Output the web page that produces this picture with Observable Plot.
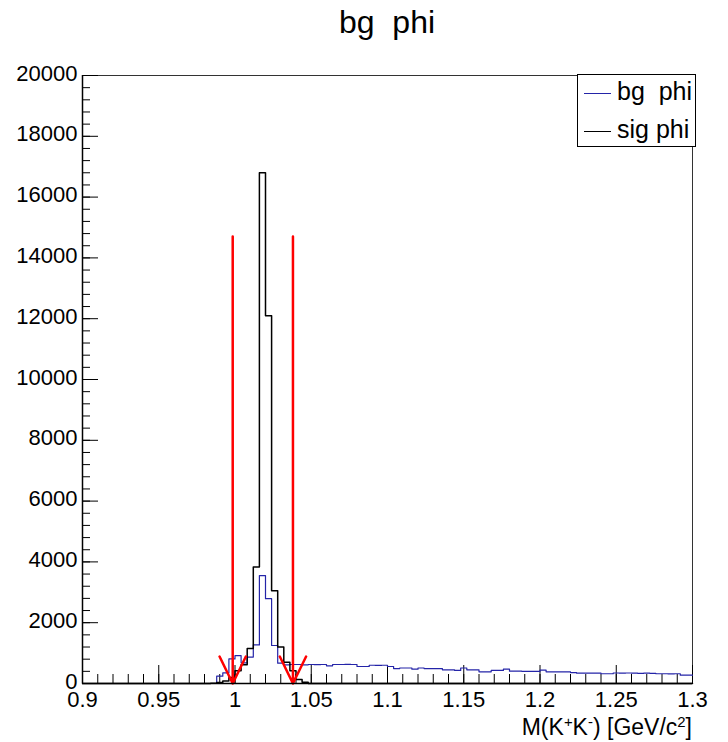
<!DOCTYPE html>
<html><head><meta charset="utf-8">
<script src="https://cdn.jsdelivr.net/npm/d3@7"></script>
<script src="https://cdn.jsdelivr.net/npm/@observablehq/plot@0.6"></script>
<style>
body{margin:0;background:#fff;font-family:"Liberation Sans",Arial,sans-serif;}
#wrap{position:relative;width:728px;height:742px;overflow:hidden;}
#title{position:absolute;left:387px;top:6px;transform:translateX(-50%);font-size:32px;line-height:32px;white-space:pre;color:#000;}
#xlabel{position:absolute;right:36px;top:716px;font-size:23px;line-height:23px;white-space:pre;color:#000;}
#xlabel sup{font-size:65%;line-height:0;vertical-align:0.55em;}
#legend{position:absolute;left:577px;top:74px;width:119px;height:73px;border:1px solid #000;background:#fff;box-sizing:border-box;}
.sw{position:absolute;left:6px;width:27px;height:0;border-top:1.5px solid;}
.lt{position:absolute;left:39px;font-size:25px;line-height:25px;white-space:pre;color:#000;}
</style></head>
<body>
<div id="wrap">
<div id="chart"></div>
<div id="title"></div>
<div id="legend"></div>
<div id="xlabel">M(K<sup>+</sup>K<sup>-</sup>) [GeV/c<sup>2</sup>]</div>
</div>
<script>
// Histogram binning: 100 bins from 0.9 to 1.3
const binStart = 0.9, binWidth = 0.004, nBins = 100;
// Counts per bin
const bgCounts = [
  0,0,0,0,0,0,0,0,0,0,
  0,0,0,0,0,0,0,0,0,0,
  0,0,240,350,810,920,680,870,1270,3550,
  2790,1250,670,615,625,625,615,625,620,625,
  580,625,625,630,625,560,560,600,595,600,
  560,490,510,510,470,510,490,490,490,450,
  450,430,510,450,450,385,385,430,430,470,
  405,405,400,400,400,440,385,385,385,385,
  360,340,340,340,340,320,320,345,340,345,
  340,335,340,335,320,320,315,320,275,275
];
const sigCounts = [
  0,0,0,0,0,0,0,0,0,0,
  0,0,0,0,0,0,0,0,0,0,
  0,10,30,80,200,420,620,1150,3830,16800,
  12100,3050,1200,700,420,130,40,0,0,0,
  0,0,0,0,0,0,0,0,0,0,
  0,0,0,0,0,0,0,0,0,0,
  0,0,0,0,0,0,0,0,0,0,
  0,0,0,0,0,0,0,0,0,0,
  0,0,0,0,0,0,0,0,0,0,
  0,0,0,0,0,0,0,0,0,0
];
const seriesNames = ["bg  phi", "sig phi"];
const seriesColors = ["#2424a8", "#000000"];
const titleText = "bg  phi";
// Cut window arrows
const cutX = [0.9985, 1.038];
const arrowTop = 14700;
// Axis ticks
const xMajor = [0.9, 0.95, 1.0, 1.05, 1.1, 1.15, 1.2, 1.25, 1.3];
const xMinor = d3.range(90, 131).map(v => v / 100);
const yMajor = [0, 2000, 4000, 6000, 8000, 10000, 12000, 14000, 16000, 18000, 20000];
const yMinor = d3.range(0, 20001, 400);

const edges = d3.range(nBins + 1).map(i => +(binStart + i * binWidth).toFixed(4));
const toSteps = counts => edges.map((x, i) => ({x, y: counts[Math.min(i, nBins - 1)]}));
const bgData = toSteps(bgCounts);
const sigData = toSteps(sigCounts);

const W = 728, H = 742, mL = 82, mR = 36, mT = 75, mB = 59;
const fw = W - mL - mR, fh = H - mT - mB;

const chart = Plot.plot({
  width: W, height: H,
  marginLeft: mL, marginRight: mR, marginTop: mT, marginBottom: mB,
  x: {domain: [0.9, 1.3], label: null},
  y: {domain: [0, 20000], label: null},
  style: {fontFamily: "'Liberation Sans', Arial, sans-serif", fontSize: "22px", background: "#fff", color: "#000", overflow: "visible"},
  marks: [
    Plot.frame({stroke: "#333", strokeWidth: 1}),
    Plot.ruleX(xMinor, {insetTop: fh - 9, stroke: "#000", strokeWidth: 1}),
    Plot.ruleX(xMajor, {insetTop: fh - 18, stroke: "#000", strokeWidth: 1}),
    Plot.ruleY(yMinor, {insetRight: fw - 8, stroke: "#000", strokeWidth: 1}),
    Plot.ruleY(yMajor, {insetRight: fw - 16, stroke: "#000", strokeWidth: 1}),
    Plot.line(bgData, {x: "x", y: "y", curve: "step-after", stroke: seriesColors[0], strokeWidth: 1.2}),
    Plot.line(sigData, {x: "x", y: "y", curve: "step-after", stroke: seriesColors[1], strokeWidth: 1.5}),
    Plot.arrow(cutX, {x1: d => d, x2: d => d, y1: arrowTop, y2: 0, stroke: "#ff0000", strokeWidth: 2.5, headLength: 18, headAngle: 52}),
    Plot.ruleX([0.9], {stroke: "#000", strokeWidth: 1.5}),
    Plot.ruleY([0], {stroke: "#000", strokeWidth: 1.5}),
    Plot.axisX({ticks: xMajor, tickSize: 0, tickPadding: 8, tickFormat: d => String(+d.toFixed(2)), label: null}),
    Plot.axisY({ticks: yMajor, tickSize: 0, tickPadding: 5, dy: -2, tickFormat: d => String(d), label: null})
  ]
});
document.getElementById("chart").appendChild(chart);
document.getElementById("title").textContent = titleText;

const legend = document.getElementById("legend");
const rowY = [18, 56];
seriesNames.forEach((name, i) => {
  const sw = document.createElement("div");
  sw.className = "sw";
  sw.style.top = rowY[i] + "px";
  sw.style.borderTopColor = seriesColors[i];
  legend.appendChild(sw);
  const t = document.createElement("div");
  t.className = "lt";
  t.style.top = (rowY[i] - 14) + "px";
  t.textContent = name;
  legend.appendChild(t);
});
</script>
</body></html>
